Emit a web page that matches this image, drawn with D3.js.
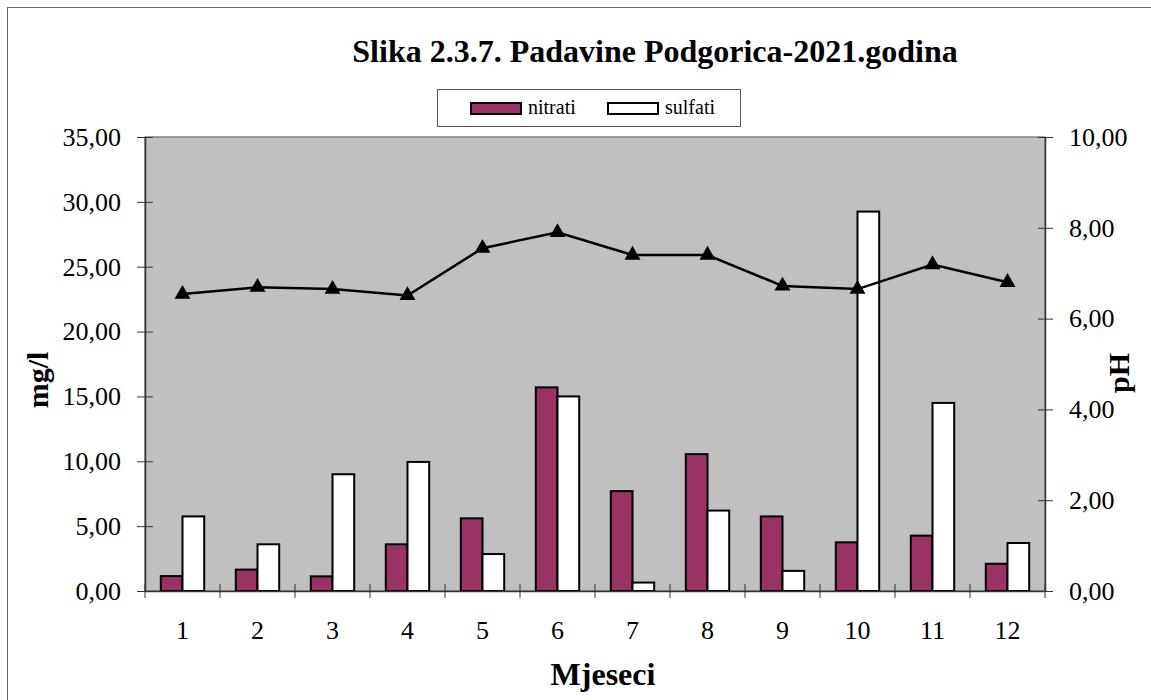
<!DOCTYPE html>
<html>
<head>
<meta charset="utf-8">
<script src="https://cdn.jsdelivr.net/npm/d3@7"></script>
<style>
  body { margin: 0; background: #fff; }
  text { font-family: "Liberation Serif", "Times New Roman", serif; fill: #000; }
</style>
</head>
<body>
<div id="chart"></div>
<script>
// chart data
let months = ["1", "2", "3", "4", "5", "6", "7", "8", "9", "10", "11", "12"]
let nitrati = [1.15, 1.65, 1.13, 3.6, 5.6, 15.7, 7.7, 10.55, 5.75, 3.75, 4.27, 2.1]
let sulfati = [5.75, 3.6, 9.0, 9.95, 2.85, 15.0, 0.65, 6.2, 1.55, 29.25, 14.5, 3.7]
let pH = [6.54, 6.69, 6.65, 6.51, 7.55, 7.9, 7.4, 7.4, 6.72, 6.65, 7.19, 6.8]
let leftTicks = [0, 5, 10, 15, 20, 25, 30, 35]
let rightTicks = [0, 2, 4, 6, 8, 10]
let seriesNames = ["nitrati", "sulfati"]
let seriesColors = ["#993366", "#ffffff"]

let width = 1151, height = 700
let plot = {left: 145, right: 1045, top: 137, bottom: 591}
let serif = "'Liberation Serif', 'Times New Roman', serif"

let fmt = v => d3.format(".2f")(v).replace(".", ",")

let svg = d3.select("#chart")
    .append("svg")
        .attr("width", width)
        .attr("height", height)

// outer frame (only top/left edges visible)
svg.append("rect")
    .attr("x", 7.5).attr("y", 7.5)
    .attr("width", width + 20).attr("height", height + 20)
    .attr("fill", "none")
    .attr("stroke", "#666")

// scales
let x0 = d3.scaleBand().domain(months).range([plot.left, plot.right]).padding(0)
let groupW = 43.4
let x1 = d3.scaleBand().domain(seriesNames).range([0, groupW]).padding(0)
let yL = d3.scaleLinear().domain([0, 35]).range([plot.bottom, plot.top])
let yR = d3.scaleLinear().domain([0, 10]).range([plot.bottom, plot.top])

// plot background
svg.append("rect")
    .attr("x", plot.left).attr("y", plot.top)
    .attr("width", plot.right - plot.left).attr("height", plot.bottom - plot.top)
    .attr("fill", "#c0c0c0")
    .attr("stroke", "#808080")
    .attr("stroke-width", 1.5)

// bars
let groups = svg.selectAll("g.month")
    .data(months)
    .enter()
    .append("g")
    .attr("class", "month")
    .attr("transform", d => `translate(${x0(d) + (x0.bandwidth() - groupW) / 2}, 0)`)

let seriesVals = [nitrati, sulfati]
groups.selectAll("rect")
    .data((d, i) => seriesNames.map((s, j) => ({key: s, value: seriesVals[j][i], color: seriesColors[j]})))
    .enter()
    .append("rect")
    .attr("x", d => x1(d.key))
    .attr("y", d => yL(d.value))
    .attr("width", x1.bandwidth())
    .attr("height", d => yL(0) - yL(d.value))
    .attr("fill", d => d.color)
    .attr("stroke", "#000")
    .attr("stroke-width", 2)

// axes
let leftAxis = svg.append("g")
    .attr("transform", `translate(${plot.left}, 0)`)
    .call(d3.axisLeft(yL).tickValues(leftTicks).tickFormat(fmt).tickSizeInner(8).tickSizeOuter(0).tickPadding(16))
let rightAxis = svg.append("g")
    .attr("transform", `translate(${plot.right}, 0)`)
    .call(d3.axisRight(yR).tickValues(rightTicks).tickFormat(fmt).tickSizeInner(8).tickSizeOuter(0).tickPadding(16))
let bottomAxis = svg.append("g")
    .attr("transform", `translate(0, ${plot.bottom})`)
    .call(d3.axisBottom(x0).tickSize(0).tickPadding(30))

// cross ticks: extend inward as well
leftAxis.selectAll(".tick line").attr("x1", 8)
rightAxis.selectAll(".tick line").attr("x1", -7)

// category boundary ticks on x axis
svg.append("g")
    .selectAll("line")
    .data(months.concat(["end"]))
    .enter()
    .append("line")
    .attr("x1", (d, i) => plot.left + i * x0.step())
    .attr("x2", (d, i) => plot.left + i * x0.step())
    .attr("y1", plot.bottom - 7)
    .attr("y2", plot.bottom + 7)
    .attr("stroke", "#333")

svg.selectAll(".domain").attr("stroke", "#333").attr("stroke-width", 1.5)
svg.selectAll(".tick line").attr("stroke", "#333")
svg.selectAll(".tick text")
    .style("font-family", serif)
    .style("font-size", "26px")
    .attr("fill", "#000")

// pH line
let line = d3.line()
    .x((d, i) => x0(months[i]) + x0.bandwidth() / 2)
    .y(d => yR(d))

svg.append("path")
    .datum(pH)
    .attr("d", line)
    .attr("fill", "none")
    .attr("stroke", "#000")
    .attr("stroke-width", 2.5)

svg.selectAll("path.marker")
    .data(pH)
    .enter()
    .append("path")
    .attr("class", "marker")
    .attr("d", d3.symbol().type(d3.symbolTriangle).size(110))
    .attr("transform", (d, i) => `translate(${x0(months[i]) + x0.bandwidth() / 2}, ${yR(d)})`)
    .attr("fill", "#000")

// titles
svg.append("text")
    .attr("x", 655).attr("y", 62)
    .attr("text-anchor", "middle")
    .style("font-family", serif)
    .style("font-size", "32px").style("font-weight", "bold")
    .text("Slika 2.3.7. Padavine Podgorica-2021.godina")

svg.append("text")
    .attr("x", 603).attr("y", 685)
    .attr("text-anchor", "middle")
    .style("font-family", serif)
    .style("font-size", "32px").style("font-weight", "bold")
    .text("Mjeseci")

svg.append("text")
    .attr("transform", "translate(48, 380) rotate(-90)")
    .attr("text-anchor", "middle")
    .style("font-family", serif)
    .style("font-size", "30px").style("font-weight", "bold")
    .text("mg/l")

svg.append("text")
    .attr("transform", "translate(1129, 373) rotate(-90)")
    .attr("text-anchor", "middle")
    .style("font-family", serif)
    .style("font-size", "30px").style("font-weight", "bold")
    .text("pH")

// legend
let leg = svg.append("g").attr("class", "legend")
leg.append("rect")
    .attr("x", 437.5).attr("y", 89.5)
    .attr("width", 303).attr("height", 37)
    .attr("fill", "#fff")
    .attr("stroke", "#555")

let legX = [471, 608]
leg.selectAll("rect.sw")
    .data(seriesNames)
    .enter()
    .append("rect")
    .attr("class", "sw")
    .attr("x", (d, i) => legX[i]).attr("y", 103)
    .attr("width", 50).attr("height", 11)
    .attr("fill", (d, i) => seriesColors[i])
    .attr("stroke", "#000")
    .attr("stroke-width", 2)

leg.selectAll("text")
    .data(seriesNames)
    .enter()
    .append("text")
    .attr("x", (d, i) => legX[i] + 57).attr("y", 114)
    .style("font-family", serif)
    .style("font-size", "20px")
    .text(d => d)
</script>
</body>
</html>
